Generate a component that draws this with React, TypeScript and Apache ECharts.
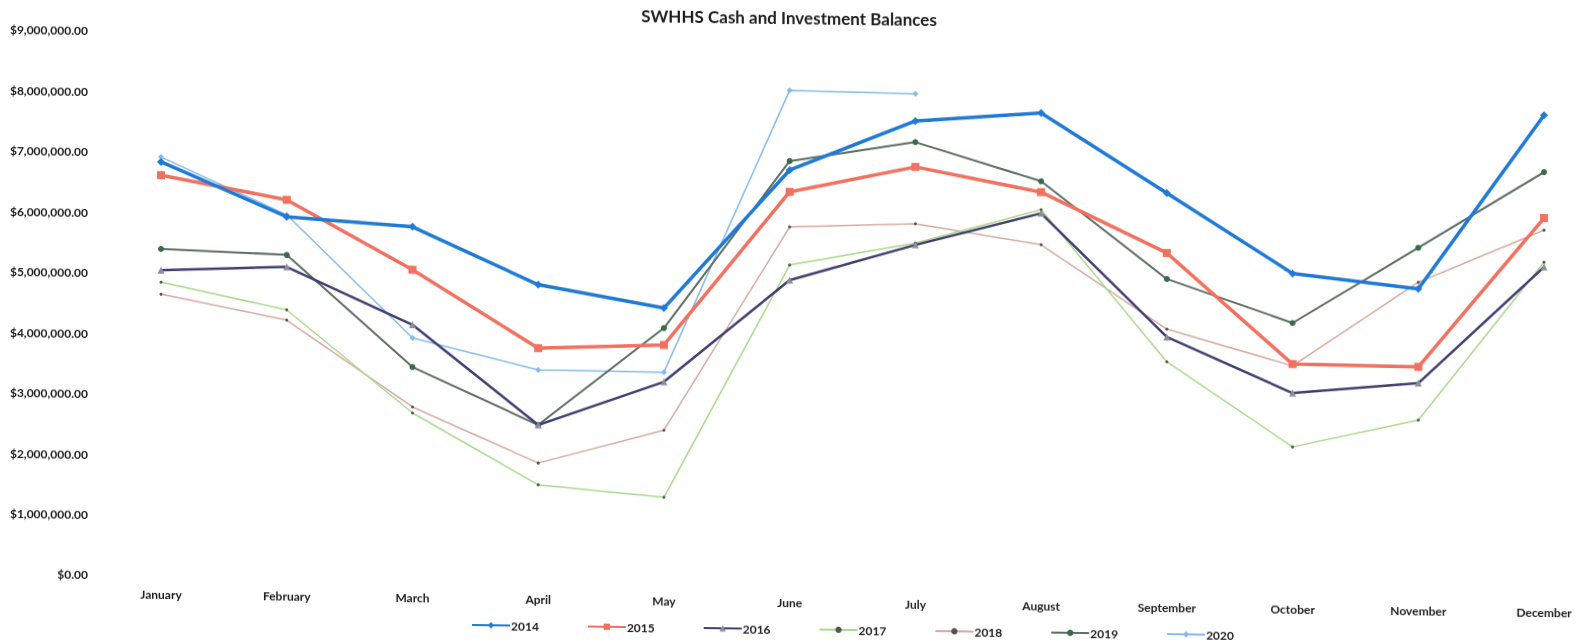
import React, { useEffect, useRef } from "react";
import * as echarts from "echarts";

// Month categories along the x axis
const months = [
  "January", "February", "March", "April", "May", "June",
  "July", "August", "September", "October", "November", "December",
];

// Cash and investment balances by year (dollars)
const y2014 = [6850000, 5970000, 5830000, 4900000, 4540000, 6850000, 7690000, 7850000, 6550000, 5250000, 5020000, 7920000];
const y2015 = [6630000, 6250000, 5120000, 3850000, 3930000, 6490000, 6930000, 6540000, 5560000, 3750000, 3730000, 6220000];
const y2016 = [5060000, 5140000, 4210000, 2580000, 3320000, 5030000, 5640000, 6190000, 4170000, 3270000, 3460000, 5410000];
const y2017 = [4860000, 4430000, 2750000, 1590000, 1410000, 5280000, 5670000, 6250000, 3760000, 2380000, 2850000, 5490000];
const y2018 = [4660000, 4260000, 2850000, 1950000, 2520000, 5910000, 5990000, 5670000, 4300000, 3720000, 5130000, 6020000];
const y2019 = [5410000, 5340000, 3510000, 2580000, 4210000, 7000000, 7340000, 6720000, 5130000, 4430000, 5700000, 6980000];
const y2020 = [6930000, 6000000, 3990000, 3490000, 3480000, 8170000, 8140000, null, null, null, null, null];

const years = ["2014", "2015", "2016", "2017", "2018", "2019", "2020"];

const FONT = "Lato, 'Open Sans', sans-serif";

function fmtMoney(v: number): string {
  return "$" + v.toLocaleString("en-US", { minimumFractionDigits: 2, maximumFractionDigits: 2 });
}

export default function App() {
  const ref = useRef<HTMLDivElement>(null);

  useEffect(() => {
    if (!ref.current) return;
    const chart = echarts.init(ref.current, undefined, { renderer: "svg" });

    const styles = [
      { data: y2014, color: "#1f7ad6", width: 3.5, symbol: "diamond", size: 8, markerColor: "#1f7ad6" },
      { data: y2015, color: "#f2705f", width: 3.5, symbol: "rect", size: 8, markerColor: "#f2705f" },
      { data: y2016, color: "#423f70", width: 2.5, symbol: "triangle", size: 7, markerColor: "#8d8d9c" },
      { data: y2017, color: "#a9d98c", width: 1.5, symbol: "circle", size: 3, markerColor: "#4f5a45" },
      { data: y2018, color: "#d6aaa1", width: 1.5, symbol: "circle", size: 3, markerColor: "#5a4d4b" },
      { data: y2019, color: "#5d6e62", width: 2, symbol: "circle", size: 6, markerColor: "#3a6b48" },
      { data: y2020, color: "#86bbec", width: 1.5, symbol: "diamond", size: 6, markerColor: "#86bbec" },
    ];

    chart.setOption({
      animation: false,
      backgroundColor: "#ffffff",
      title: {
        text: "SWHHS Cash and Investment Balances",
        left: "center",
        top: 0,
        padding: 0,
        textStyle: { fontFamily: FONT, fontSize: 17, fontWeight: "bold", color: "#1d1d1d" },
      },
      grid: { left: 161, right: 34, top: 31, bottom: 68, containLabel: false },
      legend: {
        data: years,
        left: 466,
        top: 609,
        itemWidth: 38,
        itemHeight: 8,
        itemGap: 48,
        textStyle: { fontFamily: FONT, fontSize: 12, fontWeight: "bold", color: "#1d1d1d", padding: [0, 0, 0, -4] },
      },
      xAxis: {
        type: "category",
        data: months,
        boundaryGap: false,
        axisLine: { show: false },
        axisTick: { show: false },
        splitLine: { show: false },
        axisLabel: {
          interval: 0,
          margin: 12,
          fontFamily: FONT,
          fontSize: 12,
          fontWeight: "bold",
          color: "#1d1d1d",
        },
      },
      yAxis: {
        type: "value",
        min: 0,
        max: 9000000,
        interval: 1000000,
        axisLine: { show: false },
        axisTick: { show: false },
        splitLine: { show: false },
        axisLabel: {
          margin: 73,
          fontFamily: FONT,
          fontSize: 12,
          fontWeight: "bold",
          color: "#1d1d1d",
          formatter: (v: number) => fmtMoney(v),
        },
      },
      series: styles.map((s, i) => ({
        name: years[i],
        type: "line",
        data: s.data,
        connectNulls: false,
        symbol: s.symbol,
        symbolSize: s.size,
        showSymbol: true,
        lineStyle: { color: s.color, width: s.width },
        itemStyle: { color: s.markerColor, borderWidth: 0 },
        z: 10 - i,
      })),
    });

    return () => chart.dispose();
  }, []);

  return (
    <div
      ref={ref}
      style={{
        position: "fixed",
        left: 0,
        top: 0,
        width: 1578,
        height: 643,
        transform: "skewY(0.75deg)",
        transformOrigin: "90px 0",
      }}
    />
  );
}
